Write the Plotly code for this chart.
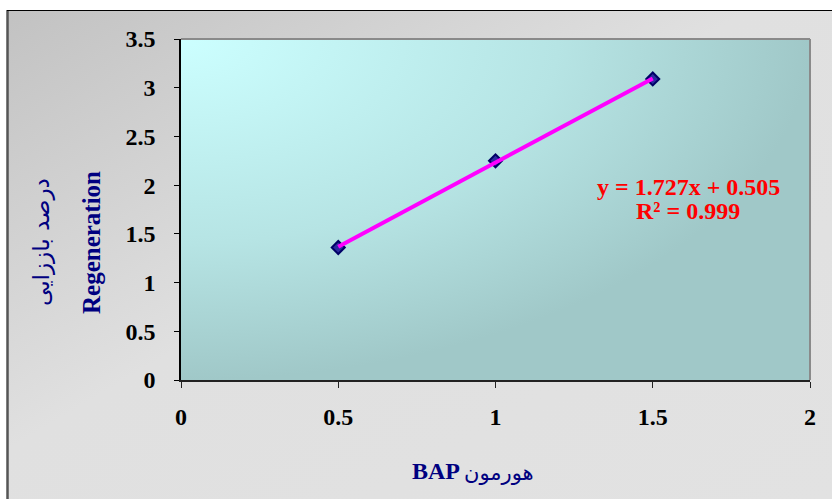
import base64
import plotly.graph_objects as go

# Measured regeneration vs. BAP hormone concentration
bap = [0.5, 1.0, 1.5]
regeneration = [1.36, 2.25, 3.09]

# Linear trendline reported on the chart
slope = 1.727
intercept = 0.505
r_squared = 0.999

x_ticks = [0, 0.5, 1, 1.5, 2]
y_ticks = [0, 0.5, 1, 1.5, 2, 2.5, 3, 3.5]

# Canvas and plot-area geometry (pixels)
W, H = 832, 499
ML, MR, MT, MB = 181, 22, 39, 119
PW, PH = W - ML - MR, H - MT - MB


def px(x):
    return (x - ML) / PW


def py(y):
    return (H - MB - y) / PH


def svg_uri(svg):
    return "data:image/svg+xml;base64," + base64.b64encode(svg.encode()).decode()


frame_svg = (
    '<svg xmlns="http://www.w3.org/2000/svg" width="100" height="100" '
    'viewBox="0 0 100 100" preserveAspectRatio="none">'
    '<defs><linearGradient id="g" x1="0" y1="0" x2="1" y2="1">'
    '<stop offset="0" stop-color="#c2c2c2"/>'
    '<stop offset="0.45" stop-color="#e0e0e0"/>'
    '<stop offset="1" stop-color="#e2e2e2"/>'
    '</linearGradient></defs>'
    '<rect width="100" height="100" fill="url(#g)"/></svg>'
)

plot_svg = (
    '<svg xmlns="http://www.w3.org/2000/svg" width="100" height="100" '
    'viewBox="0 0 100 100" preserveAspectRatio="none">'
    '<defs><radialGradient id="r" cx="0" cy="0" r="1" fx="0" fy="0">'
    '<stop offset="0" stop-color="#ccffff"/>'
    '<stop offset="0.6" stop-color="#b6e4e4"/>'
    '<stop offset="1" stop-color="#a0c8c8"/>'
    '</radialGradient></defs>'
    '<rect width="100" height="100" fill="url(#r)"/></svg>'
)

fig = go.Figure()

fig.add_trace(go.Scatter(
    x=bap, y=regeneration, mode="markers",
    marker=dict(symbol="diamond", size=10, color="#2b2ba0",
                line=dict(color="#000066", width=2)),
    hoverinfo="skip",
))

trend_x = [min(bap), max(bap)]
trend_y = [slope * v + intercept for v in trend_x]
fig.add_trace(go.Scatter(
    x=trend_x, y=trend_y, mode="lines",
    line=dict(color="#ff00ff", width=4),
    hoverinfo="skip",
))

serif = "Liberation Serif, Times New Roman, serif"
tick_font = dict(family=serif, size=24, color="black", weight="bold")

fig.update_layout(
    width=W, height=H,
    margin=dict(l=ML, r=MR, t=MT, b=MB),
    paper_bgcolor="white",
    plot_bgcolor="rgba(0,0,0,0)",
    showlegend=False,
    xaxis=dict(
        range=[0, 2], tickvals=x_ticks, ticktext=[f"{v:g}" for v in x_ticks],
        showgrid=False, zeroline=False,
        showline=True, linecolor="#222", linewidth=2,
        ticks="outside", ticklen=6, tickcolor="#222", tickwidth=1,
        tickfont=tick_font, ticklabelstandoff=8,
    ),
    yaxis=dict(
        range=[0, 3.5], tickvals=y_ticks, ticktext=[f"{v:g}" for v in y_ticks],
        showgrid=False, zeroline=False,
        showline=True, linecolor="black", linewidth=1.5,
        ticks="outside", ticklen=5, tickcolor="black", tickwidth=1,
        tickfont=tick_font, ticklabelstandoff=14,
    ),
    images=[
        dict(source=svg_uri(frame_svg), xref="paper", yref="paper",
             x=px(7), y=py(10), sizex=(W - 7) / PW, sizey=(H - 10) / PH,
             xanchor="left", yanchor="top", sizing="stretch", layer="below"),
        dict(source=svg_uri(plot_svg), xref="paper", yref="paper",
             x=0, y=1, sizex=1, sizey=1,
             xanchor="left", yanchor="top", sizing="stretch", layer="below"),
    ],
    shapes=[
        # chart frame
        dict(type="line", xref="paper", yref="paper",
             x0=px(7.5), x1=px(7.5), y0=py(10), y1=py(H + 2),
             line=dict(color="#555555", width=2.5)),
        dict(type="line", xref="paper", yref="paper",
             x0=px(7), x1=px(W + 2), y0=py(10.5), y1=py(10.5),
             line=dict(color="black", width=1)),
        # plot-area border (top and right)
        dict(type="line", xref="paper", yref="paper",
             x0=0, x1=1, y0=1, y1=1, line=dict(color="#8a8a8a", width=2)),
        dict(type="line", xref="paper", yref="paper",
             x0=1, x1=1, y0=0, y1=1, line=dict(color="#8a8a8a", width=2)),
    ],
)

eq_font = dict(family=serif, size=24, color="#ff0000", weight="bold")
title_font_en = dict(family=serif, size=25, color="#000080", weight="bold")
title_font_fa = dict(family="DejaVu Sans, sans-serif", size=23, color="#000080")

annotations = [
    dict(text=f"y = {slope:.3f}x + {intercept:.3f}", x=px(688), y=py(187)),
    dict(text=f"R² = {r_squared:.3f}", x=px(688), y=py(211)),
]
for a in annotations:
    a.update(xref="paper", yref="paper", showarrow=False,
             xanchor="center", yanchor="middle", font=eq_font)

annotations += [
    dict(text="Regeneration", x=px(91), y=py(243), textangle=-90,
         font=title_font_en),
    dict(text="درصد باززایی", x=px(41), y=py(242), textangle=-90,
         font=title_font_fa),
    dict(text="BAP", x=px(462), y=py(471), xanchor="right",
         font=dict(family=serif, size=24, color="#000080", weight="bold")),
    dict(text="هورمون", x=px(462), y=py(473), xanchor="left",
         font=dict(family="DejaVu Sans, sans-serif", size=21, color="#000080")),
]
for a in annotations[2:]:
    a.update(xref="paper", yref="paper", showarrow=False)
    a.setdefault("xanchor", "center")
    a.setdefault("yanchor", "middle")

fig.update_layout(annotations=annotations)

fig.write_html("out.html")
